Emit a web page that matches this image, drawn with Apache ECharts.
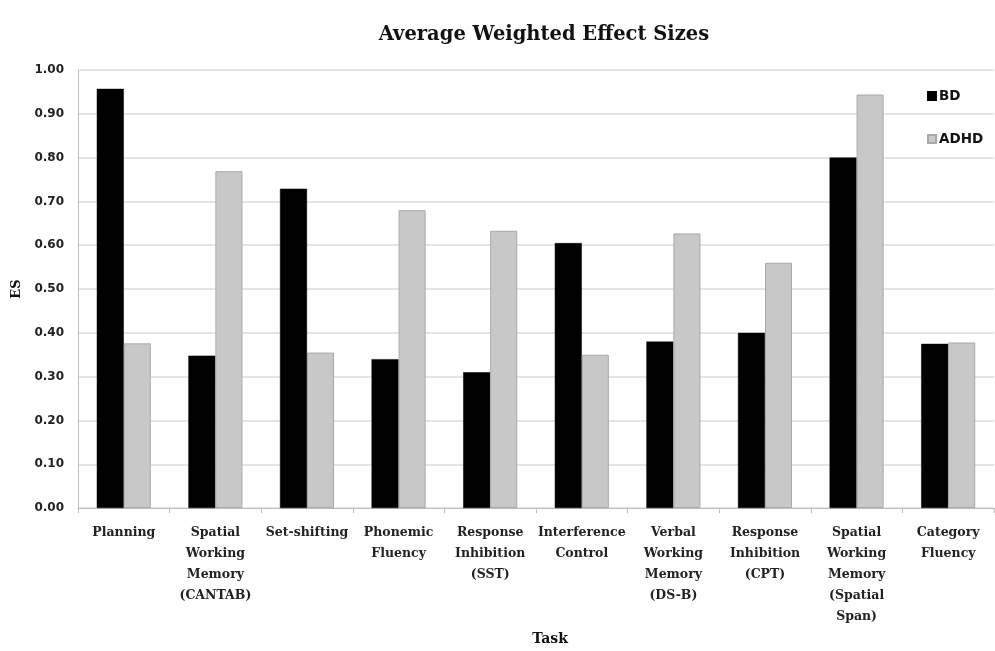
<!DOCTYPE html>
<html>
<head>
<meta charset="utf-8">
<script src="https://cdn.jsdelivr.net/npm/echarts@6/dist/echarts.min.js"></script>
<style>
html,body{margin:0;padding:0;background:#fff;}
#chart{width:995px;height:651px;}
</style>
</head>
<body>
<div id="chart"></div>
<script>
var categories = [
  "Planning",
  "Spatial\nWorking\nMemory\n(CANTAB)",
  "Set-shifting",
  "Phonemic\nFluency",
  "Response\nInhibition\n(SST)",
  "Interference\nControl",
  "Verbal\nWorking\nMemory\n(DS-B)",
  "Response\nInhibition\n(CPT)",
  "Spatial\nWorking\nMemory\n(Spatial\nSpan)",
  "Category\nFluency"
];
var bdValues   = [0.957, 0.348, 0.729, 0.340, 0.310, 0.605, 0.380, 0.400, 0.800, 0.375];
var adhdValues = [0.376, 0.769, 0.355, 0.680, 0.633, 0.350, 0.627, 0.560, 0.944, 0.378];
var seriesNames = ["BD", "ADHD"];

var chart = echarts.init(document.getElementById('chart'), null, {renderer: 'canvas'});
var serif = "'DejaVu Serif', 'Liberation Serif', serif";
var sans = "'DejaVu Sans', 'Liberation Sans', sans-serif";
chart.setOption({
  animation: false,
  backgroundColor: '#ffffff',
  title: {
    text: 'Average Weighted Effect Sizes',
    left: 539, textAlign: 'center', top: 20,
    textStyle: {fontFamily: serif, fontWeight: 'bold', fontSize: 19.5, color: '#111'}
  },
  legend: {
    orient: 'vertical',
    left: 922, top: 84,
    itemWidth: 8, itemHeight: 8, itemGap: 29,
    icon: 'rect',
    data: seriesNames,
    textStyle: {fontFamily: sans, fontWeight: 'bold', fontSize: 13.5, color: '#111', padding: [0,0,0,-2]}
  },
  grid: {left: 78, right: 1, top: 70, bottom: 119},
  xAxis: {
    type: 'category',
    data: categories,
    name: 'Task',
    nameLocation: 'middle',
    nameGap: 103,
    nameTextStyle: {fontFamily: serif, fontWeight: 'bold', fontSize: 14, color: '#111', padding: [0,0,0,28]},
    axisLine: {lineStyle: {color: '#bfbfbf'}},
    axisTick: {show: true, length: 5, lineStyle: {color: '#bfbfbf'}},
    axisLabel: {
      interval: 0, margin: 14,
      fontFamily: serif, fontWeight: 'bold', fontSize: 12.5, color: '#222', lineHeight: 21
    }
  },
  yAxis: {
    type: 'value',
    min: 0, max: 1, interval: 0.1,
    name: 'ES',
    nameLocation: 'middle',
    nameRotate: 90,
    nameGap: 53,
    nameTextStyle: {fontFamily: serif, fontWeight: 'bold', fontSize: 13, color: '#111'},
    axisLine: {show: true, lineStyle: {color: '#bfbfbf'}},
    axisTick: {show: false},
    axisLabel: {
      formatter: function (v) { return v.toFixed(2); },
      margin: 14,
      fontFamily: sans, fontWeight: 'bold', fontSize: 12, color: '#222'
    },
    splitLine: {lineStyle: {color: '#dcdcdc', width: 1.5}}
  },
  series: [
    {
      name: seriesNames[0], type: 'bar', data: bdValues,
      barGap: '0%', barCategoryGap: '41%',
      itemStyle: {color: '#000000', borderColor: '#000000', borderWidth: 0.5}
    },
    {
      name: seriesNames[1], type: 'bar', data: adhdValues,
      barGap: '0%', barCategoryGap: '41%',
      itemStyle: {color: '#c8c8c8', borderColor: '#a8a8a8', borderWidth: 1}
    }
  ]
});
</script>
</body>
</html>
